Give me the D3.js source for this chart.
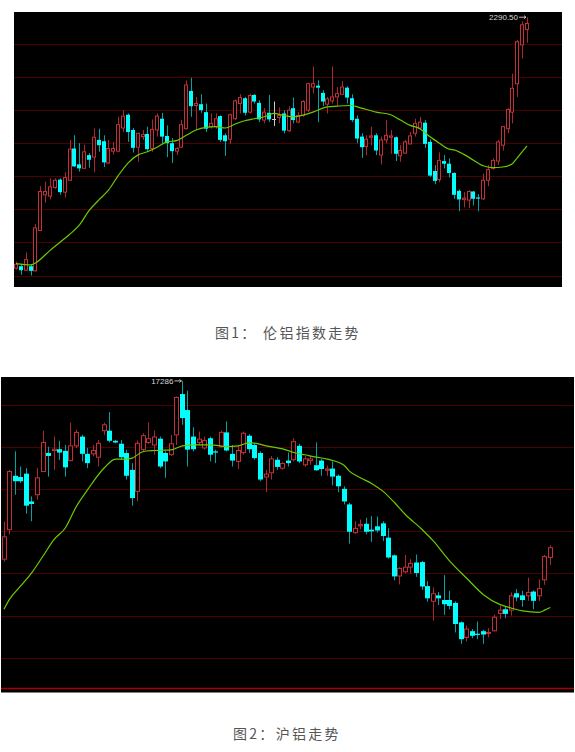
<!DOCTYPE html>
<html><head><meta charset="utf-8">
<script src="https://cdn.jsdelivr.net/npm/d3@7/dist/d3.min.js"></script>
<style>html,body{margin:0;padding:0;background:#fff;}svg{display:block}</style>
</head><body>
<svg id="c" width="575" height="752"></svg>
<script>
// ---------- Chart 1: LME aluminium index (daily OHLC) ----------
const lmeOpen  = [1911,1914,1908,1914,1907,1968,2022,2020,2033,2045,2026,2044,2092,2068,2062,2082,2079,2105,2103,2070,2088,2088,2123,2143,2120,2094,2110,2114,2092,2120,2137,2111,2100,2088,2094,2122,2179,2157,2159,2147,2125,2125,2141,2112,2106,2137,2160,2168,2147,2173,2161,2135,2146,2137,2139,2145,2119,2153,2132,2142,2150,2185,2187,2176,2159,2164,2170,2174,2184,2168,2137,2110,2095,2109,2112,2082,2105,2109,2109,2081,2085,2099,2115,2123,2131,2102,2058,2045,2073,2069,2055,2028,2015,2014,2027,2018,2016,2044,2062,2073,2097,2122,2147,2190,2248.5,2272];
const lmeHigh  = [1921,1917,1935,1917,1978,2035,2042,2047,2047,2047,2056,2105,2112,2100,2098,2085,2122,2122,2112,2105,2102,2140,2150,2145,2123,2116,2120,2125,2136,2145,2146,2127,2108,2094,2135,2195,2199,2170,2174,2160,2145,2145,2142,2115,2145,2166,2174,2170,2175,2174,2165,2153,2173,2163,2154,2150,2156,2169,2147,2165,2191,2216,2195,2180,2170,2216,2185,2194,2186,2174,2142,2115,2112,2125,2115,2110,2135,2120,2110,2097,2105,2117,2137,2140,2135,2106,2067,2086,2082,2077,2056,2030,2026,2029,2028,2023,2054,2067,2077,2105,2126,2153,2205,2256,2284,2290.5];
const lmeLow   = [1909,1901,1907,1900,1906,1967,2010,2015,2031,2022,2018,2043,2064,2057,2061,2063,2056,2087,2064,2069,2083,2087,2117,2102,2086,2072,2105,2087,2087,2110,2100,2079,2070,2082,2093,2121,2140,2120,2146,2117,2122,2122,2102,2081,2099,2135,2145,2142,2145,2160,2132,2130,2132,2126,2130,2115,2117,2130,2130,2140,2147,2175,2132,2156,2145,2160,2157,2173,2160,2132,2100,2078,2082,2097,2082,2068,2100,2084,2073,2072,2084,2098,2110,2120,2093,2049,2038,2041,2062,2048,2016,1997,2003,2002,2006,1997,2014,2035,2060,2067,2089,2115,2130,2170,2228,2252];
const lmeClose = [1917,1908,1924,1907,1972,2027,2027,2034,2044,2026,2048,2091,2065,2062,2087,2075,2109,2097,2071,2092,2092,2128,2141,2117,2093,2115,2113,2091,2121,2141,2110,2100,2088,2092,2128,2188,2156,2160,2150,2122,2130,2137,2105,2103,2143,2164,2169,2146,2172,2163,2136,2147,2136,2137,2142,2119,2150,2135,2142,2163,2190,2190,2184,2163,2167,2170,2175,2185,2169,2135,2107,2094,2106,2111,2089,2105,2112,2111,2084,2089,2102,2111,2130,2132,2099,2051,2043,2074,2069,2055,2022,2015,2017,2027,2016,2017,2044,2060,2074,2102,2125,2151,2183,2253.5,2279,2281];
const lmeMaIdx = [0,3,4,7,9,11,13,15,17,19,21,23,25,27,29,31,33,35,37,39,41,43,45,47,49,51,53,55,57,61,64,66,69,71,74,77,79,81,83,85,87,89,90,93,96,98,100,102,103,105];
const lmeMaVal = [1918,1916,1919,1938,1950,1962,1976,1998,2014,2029,2051,2070,2082,2087,2094,2102,2104,2112,2120,2124,2125,2123,2129,2134,2137,2140,2145,2142,2140,2147,2155,2156,2157,2153,2147,2143,2135,2127,2122,2110,2100,2091,2090,2079,2066,2063,2064,2069,2078,2096];
const lmeGrid  = [2250,2200,2150,2100,2050,2000,1950,1900];
const lmeMaxLabel = "2290.50";

// ---------- Chart 2: SHFE aluminium (daily OHLC) ----------
const shfeOpen  = [15170,15520,16160,16145,16185,15855,15935,16210,16430,16460,16475,16455,16340,16515,16625,16420,16420,16380,16695,16695,16575,16540,16430,16230,15975,16470,16555,16525,16600,16430,16410,16645,17130,16940,16625,16555,16490,16605,16450,16505,16675,16420,16330,16435,16635,16525,16430,16145,16195,16350,16250,16340,16350,16515,16290,16340,16285,16340,16225,16245,16160,16005,15820,15485,15565,15590,15520,15560,15595,15425,15215,14970,15020,15075,15130,15135,14850,14670,14740,14685,14685,14650,14420,14240,14315,14285,14315,14290,14320,14525,14575,14565,14765,14740,14735,14785,14735,14925,15190];
const shfeHigh  = [15615,16230,16450,16270,16250,15915,16250,16695,16505,16625,16575,16525,16790,16705,16645,16490,16525,16585,16790,16915,16585,16585,16470,16310,16580,16665,16795,16695,16625,16450,16645,17100,17286,17170,16735,16685,16625,16625,16470,16695,16805,16525,16515,16685,16655,16545,16450,16230,16395,16380,16320,16435,16605,16540,16395,16395,16555,16360,16280,16330,16175,16035,15840,15620,15640,15660,15680,15675,15620,15535,15225,15075,15220,15170,15225,15150,14910,14835,14780,14980,14795,14670,14430,14380,14340,14430,14330,14350,14510,14615,14605,14775,14815,14795,14950,14800,14930,15220,15335];
const shfeLow   = [15140,15465,15935,16075,15710,15620,15875,16205,16150,16230,16350,16150,16330,16490,16330,16250,16390,16270,16645,16555,16545,16350,16115,15805,15855,16450,16540,16410,16250,16135,16395,16525,16765,16270,16450,16525,16470,16330,16310,16495,16450,16270,16240,16410,16430,16350,16095,15965,16115,16230,16230,16270,16330,16310,16265,16290,16220,16160,16160,16045,15965,15820,15355,15470,15525,15465,15375,15485,15385,15175,14920,14870,15000,15000,14960,14805,14665,14440,14625,14510,14575,14300,14165,14195,14230,14220,14165,14240,14310,14460,14470,14500,14670,14605,14675,14575,14675,14865,15100];
const shfeClose = [15435,16210,16095,16095,15805,15825,16135,16555,16395,16475,16435,16260,16515,16675,16420,16310,16460,16545,16765,16575,16555,16380,16160,15895,16545,16635,16600,16620,16270,16330,16540,17090,16845,16470,16475,16595,16580,16410,16435,16675,16460,16340,16460,16665,16475,16370,16115,16180,16360,16265,16305,16310,16565,16330,16360,16360,16225,16240,16240,16150,16035,15855,15495,15535,15580,15495,15500,15510,15445,15190,14965,15060,15075,15120,15005,14845,14705,14760,14705,14635,14615,14400,14220,14340,14260,14280,14275,14300,14480,14565,14520,14735,14715,14685,14775,14675,14820,15200,15305];
const shfeMaIdx = [0,1,3,5,7,9,11,13,15,18,20,22,23,25,27,30,32,34,37,40,42,44,45,47,50,52,54,56,58,61,62,64,66,68,70,72,75,77,80,83,86,89,91,93,96,97,98];
const shfeMaVal = [14575,14695,14852,15011,15207,15404,15540,15798,15995,16255,16358,16358,16370,16448,16460,16468,16515,16527,16527,16507,16515,16554,16547,16515,16480,16436,16409,16382,16358,16285,16212,16134,16066,15975,15845,15700,15522,15387,15144,14943,14748,14630,14589,14556,14539,14565,14597];
const shfeGrid  = [17000,16500,16000,15500,15000,14500,14000];
const shfeMaxLabel = "17286";
const shfeFooter = "150870.0000";

const captions = ["图1： 伦铝指数走势", "图2：沪铝走势"];

// ---------- drawing ----------
const svg = d3.select('#c');
const UP = '#c4303a', UPWICK = '#a82a30', DOWN = '#00ffff', DOWNWICK = '#00a4a4', DOJI = '#c8c8c8';

function drawPanel(cfg, id) {
  const g = svg.append('g');
  const clipId = 'clip' + id;
  svg.append('defs').append('clipPath').attr('id', clipId)
    .append('rect').attr('x', cfg.px0).attr('y', cfg.py0)
    .attr('width', cfg.px1 - cfg.px0).attr('height', cfg.py1 - cfg.py0);
  g.append('rect').attr('x', cfg.px0).attr('y', cfg.py0)
    .attr('width', cfg.px1 - cfg.px0).attr('height', cfg.py1 - cfg.py0).attr('fill', '#000');
  const inner = g.append('g').attr('clip-path', `url(#${clipId})`);

  const n = cfg.open.length;
  const x = d3.scaleLinear().domain([0, n - 1]).range(cfg.xr);
  const y = d3.scaleLinear().domain(cfg.yd).range(cfg.yr);

  // gridlines
  inner.selectAll('line.grid').data(cfg.grid).enter().append('line')
    .attr('class', 'grid')
    .attr('x1', cfg.px0).attr('x2', cfg.px1)
    .attr('y1', d => Math.round(y(d)) + 0.5).attr('y2', d => Math.round(y(d)) + 0.5)
    .attr('stroke', '#4c0000').attr('stroke-width', 1);

  const bw = cfg.bw;
  const idx = d3.range(n);
  const cg = inner.append('g');
  idx.forEach(i => {
    const o = cfg.open[i], h = cfg.high[i], l = cfg.low[i], c = cfg.close[i];
    const left = Math.round(x(i) - bw / 2);
    const cx = left + Math.floor(bw / 2) + 0.5;
    const up = c > o, doji = c === o;
    const col = doji ? DOJI : (up ? UP : DOWN);
    const wcol = doji ? DOJI : (up ? UPWICK : DOWNWICK);
    cg.append('line').attr('x1', cx).attr('x2', cx)
      .attr('y1', y(h)).attr('y2', y(l)).attr('stroke', wcol).attr('stroke-width', 1);
    const top = y(Math.max(o, c)), bot = y(Math.min(o, c));
    if (doji) {
      cg.append('line').attr('x1', left).attr('x2', left + bw)
        .attr('y1', Math.round(top) + 0.5).attr('y2', Math.round(top) + 0.5)
        .attr('stroke', col).attr('stroke-width', 1);
    } else if (up) {
      cg.append('rect').attr('x', left + 0.5).attr('y', top)
        .attr('width', bw - 1).attr('height', Math.max(1, bot - top))
        .attr('fill', '#000').attr('stroke', UP).attr('stroke-width', 1);
    } else {
      cg.append('rect').attr('x', left).attr('y', top)
        .attr('width', bw).attr('height', Math.max(1.2, bot - top))
        .attr('fill', DOWN);
    }
  });

  // moving average
  const ma = cfg.maIdx.map((d, k) => [d, cfg.maVal[k]]);
  inner.append('path').datum(ma)
    .attr('d', d3.line().x(d => x(d[0])).y(d => y(d[1])).curve(d3.curveMonotoneX))
    .attr('fill', 'none').attr('stroke', '#6acc00').attr('stroke-width', 1.2);

  // max label with arrow
  const maxI = d3.maxIndex(cfg.high);
  const mx = x(maxI), my = y(cfg.high[maxI]);
  g.append('path')
    .attr('d', `M${mx - 8},${my} L${mx - 1},${my} M${mx - 3},${my - 1.5} L${mx - 1},${my} L${mx - 3},${my + 1.5}`)
    .attr('stroke', '#d0d0d0').attr('fill', 'none').attr('stroke-width', 0.9);
  g.append('text').attr('x', mx - 9).attr('y', my + 3)
    .attr('text-anchor', 'end').attr('font-family', 'Liberation Sans, Arial, sans-serif')
    .attr('font-size', 8).attr('fill', '#d8d8d8').text(cfg.label);

  if (cfg.bottomLine) {
    g.append('line').attr('x1', cfg.px0).attr('x2', cfg.px1)
      .attr('y1', cfg.bottomLine).attr('y2', cfg.bottomLine)
      .attr('stroke', '#a80000').attr('stroke-width', 1.5);
  }
  if (cfg.footer) {
    inner.append('text').attr('x', cfg.px0 + 1).attr('y', cfg.py1 + 5.5)
      .attr('font-family', 'DejaVu Sans Mono, monospace').attr('font-size', 7)
      .attr('fill', '#c8c800').text(cfg.footer);
  }
}

drawPanel({
  px0: 14, px1: 562, py0: 12, py1: 287,
  xr: [16, 527], yd: [1900, 2250], yr: [275.5, 44],
  grid: lmeGrid, open: lmeOpen, high: lmeHigh, low: lmeLow, close: lmeClose,
  maIdx: lmeMaIdx, maVal: lmeMaVal, bw: 4, label: lmeMaxLabel
}, 1);

drawPanel({
  px0: 1, px1: 574, py0: 377, py1: 692.5,
  xr: [4, 550.3], yd: [14000, 17000], yr: [657.7, 405],
  grid: shfeGrid, open: shfeOpen, high: shfeHigh, low: shfeLow, close: shfeClose,
  maIdx: shfeMaIdx, maVal: shfeMaVal, bw: 5, label: shfeMaxLabel,
  bottomLine: 688.5, footer: shfeFooter
}, 2);

// captions
const capPos = [[215, 338], [233, 739]];
captions.forEach((t, k) => {
  svg.append('text').attr('x', capPos[k][0]).attr('y', capPos[k][1])
    .attr('font-family', 'Noto Sans CJK SC, sans-serif').attr('font-size', 14)
    .attr('letter-spacing', 2.3).attr('fill', '#555').text(t);
});
</script>
</body></html>
